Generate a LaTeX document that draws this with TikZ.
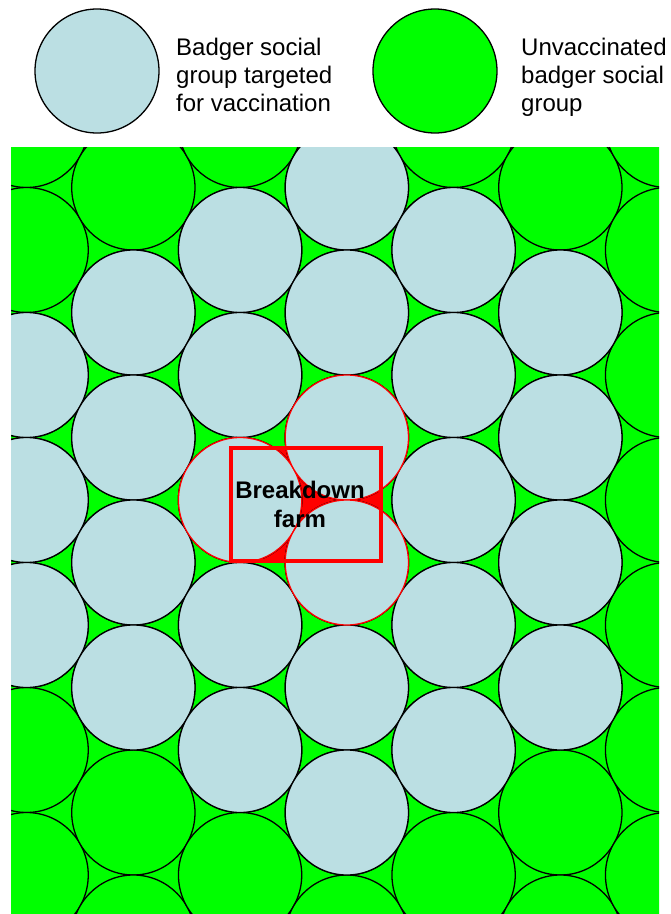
\documentclass[tikz,border=0pt]{standalone}
\usepackage{fontspec}
\setmainfont{Liberation Sans}
\definecolor{vacblue}{RGB}{187,223,227}
\definecolor{ugreen}{RGB}{0,255,0}
\definecolor{farmred}{RGB}{255,0,0}
\begin{document}
\begin{tikzpicture}[x=1pt,y=-1pt,
  grp/.style={line width=1.3pt, draw=black},
  vac/.style={grp, fill=vacblue},
  unv/.style={grp, fill=ugreen},
  leg/.style={anchor=base west, inner sep=0pt, font=\fontsize{24}{28}\selectfont},
  farmlbl/.style={anchor=base, inner sep=0pt, font=\bfseries\fontsize{24}{28}\selectfont}]
\useasboundingbox (0,0) rectangle (671,914);
% legend
\draw[vac] (97,71) circle[radius=62pt];
\node[leg] (l1a) at (176,55) {Badger social};
\node[leg] (l1b) at (176,83) {group targeted};
\node[leg] (l1c) at (176,111) {for vaccination};
\draw[unv] (435,71) circle[radius=62pt];
\node[leg] (l2a) at (521,55) {Unvaccinated};
\node[leg] (l2b) at (521,83) {badger social};
\node[leg] (l2c) at (521,111) {group};
% map
\fill[ugreen] (11,147) rectangle (659,914);
\fill[farmred] (231.3,448) rectangle (380.5,561.3);
\begin{scope}
\clip (11,147) rectangle (659,914);
\foreach \i in {0,...,6} {
  \pgfmathsetmacro\cx{26.6+106.75*\i}
  \pgfmathsetmacro\off{mod(\i,2)==0 ? 125 : 62.5}
  \foreach \j in {0,...,7} {
    \draw[unv] (\cx,\off+125*\j) ellipse [x radius=61.65pt, y radius=62.5pt];
  }
}
\foreach \i/\yy in {0/375,0/500,0/625,
  1/312.5,1/437.5,1/562.5,1/687.5,
  2/250,2/375,2/500,2/625,2/750,
  3/187.5,3/312.5,3/437.5,3/562.5,3/687.5,3/812.5,
  4/250,4/375,4/500,4/625,4/750,
  5/312.5,5/437.5,5/562.5,5/687.5} {
  \draw[vac] ({26.6+106.75*\i},\yy) ellipse [x radius=61.65pt, y radius=62.5pt];
}
\foreach \i/\yy in {2/500,3/437.5,3/562.5} {
  \draw[vac, draw=farmred] ({26.6+106.75*\i},\yy) ellipse [x radius=61.65pt, y radius=62.5pt];
}
\end{scope}
\draw[farmred, line width=4pt] (231.3,448) rectangle (380.5,561.3);
\node[farmlbl] (bd1) at (300,498) {Breakdown};
\node[farmlbl] (bd2) at (300,527) {farm};
\end{tikzpicture}
\end{document}
